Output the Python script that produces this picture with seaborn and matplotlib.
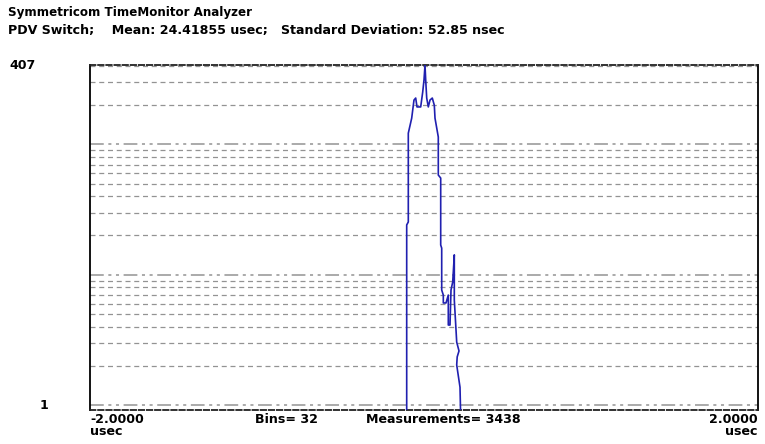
import matplotlib.pyplot as plt
import matplotlib.ticker as mticker
import seaborn as sns

# histogram trace, offset from mean (usec) vs. count
offset_usec = [
    -0.1036, -0.1036, -0.094, -0.094, -0.0737, -0.060, -0.0497, -0.0419,
    -0.0198, -0.0078, 0.0000, 0.006, 0.0102, 0.0162, 0.0258, 0.0359,
    0.0497, 0.0617, 0.0659, 0.0856, 0.0856, 0.1000, 0.1000, 0.1060,
    0.1060, 0.1156, 0.1156, 0.1317, 0.1455, 0.1455, 0.1557, 0.1617,
    0.1719, 0.1815, 0.1815, 0.1856, 0.1958, 0.2096, 0.1988, 0.1958,
    0.2156, 0.2198,
]
counts = [
    0.8, 24.1, 25.4, 122, 159, 219, 227, 194,
    194, 252, 312, 407, 312, 227, 194, 219,
    227, 200, 159, 114, 58.2, 55.2, 16.9, 16.0,
    7.63, 6.98, 6.07, 6.07, 6.98, 4.11, 4.11, 7.63,
    8.79, 14.2, 6.39, 5.17, 3.04, 2.6, 2.34, 2.03,
    1.37, 0.8,
]

title_lines = [
    "Symmetricom TimeMonitor Analyzer",
    "PDV Switch;    Mean: 24.41855 usec;   Standard Deviation: 52.85 nsec",
]
x_min, x_max = -2.0, 2.0
y_max = 407
bins = 32
measurements = 3438

sns.set_theme(style="white")
plt.rcParams["font.family"] = ["DejaVu Sans"]
plt.rcParams["font.weight"] = "bold"
plt.rcParams["text.color"] = "black"
fs = 9.1

fig = plt.figure(figsize=(7.65, 4.44), dpi=100)
ax = fig.add_axes([90 / 765, 1 - 410 / 444, 668 / 765, 345 / 444])

grid_col = "#939393"
ax.set_yscale("log")
ax.set_xlim(x_min, x_max)
ax.set_ylim(10 ** (-5 / 130.3), y_max)

# log grid: decades dash-dot-dot, sub-decades dashed
for dec in [1, 10, 100]:
    ax.axhline(dec, color=grid_col, lw=1.1, dashes=(9, 3, 2, 3, 2, 3), zorder=1)
    for m in range(2, 10):
        v = dec * m
        if v < y_max:
            ax.axhline(v, color=grid_col, lw=0.9, dashes=(4, 3), zorder=1)

sns.lineplot(x=offset_usec, y=counts, sort=False, estimator=None,
             color="#2020b0", lw=1.2, ax=ax, zorder=3)

ax.xaxis.set_major_locator(mticker.NullLocator())
ax.yaxis.set_major_locator(mticker.NullLocator())
ax.yaxis.set_minor_locator(mticker.NullLocator())
ax.set_xlabel("")
ax.set_ylabel("")

for side in ["left", "right"]:
    ax.spines[side].set_color("black")
    ax.spines[side].set_linewidth(1.3)
for side in ["top", "bottom"]:
    ax.spines[side].set_color("#222222")
    ax.spines[side].set_linewidth(1.3)
    ax.spines[side].set_linestyle((0, (3, 1.5)))

# y labels
ytrans = ax.get_yaxis_transform()
ax.text(-0.12, y_max, str(y_max), transform=ytrans, ha="left", va="center",
        fontsize=fs, fontweight="bold")
ax.text(-0.075, 1.0, "1", transform=ytrans, ha="left", va="center",
        fontsize=fs, fontweight="bold")

# x labels
ax.text(0.0, -0.008, f"{x_min:.4f}\nusec", transform=ax.transAxes, ha="left",
        va="top", fontsize=fs, fontweight="bold", linespacing=0.95)
ax.text(1.0, -0.008, f"{x_max:.4f}\nusec", transform=ax.transAxes, ha="right",
        va="top", fontsize=fs, fontweight="bold", linespacing=0.95)
ax.text((255 - 90) / 668, -0.01, f"Bins= {bins}", transform=ax.transAxes,
        ha="left", va="top", fontsize=fs, fontweight="bold")
ax.text((366 - 90) / 668, -0.01, f"Measurements= {measurements}",
        transform=ax.transAxes, ha="left", va="top", fontsize=fs,
        fontweight="bold")

fig.text(8 / 765, 1 - 6 / 444, title_lines[0], ha="left", va="top",
         fontsize=8.6, fontweight="bold")
fig.text(8 / 765, 1 - 24 / 444, title_lines[1], ha="left", va="top",
         fontsize=fs, fontweight="bold")

fig.savefig("out.png", dpi=100, facecolor="white")
